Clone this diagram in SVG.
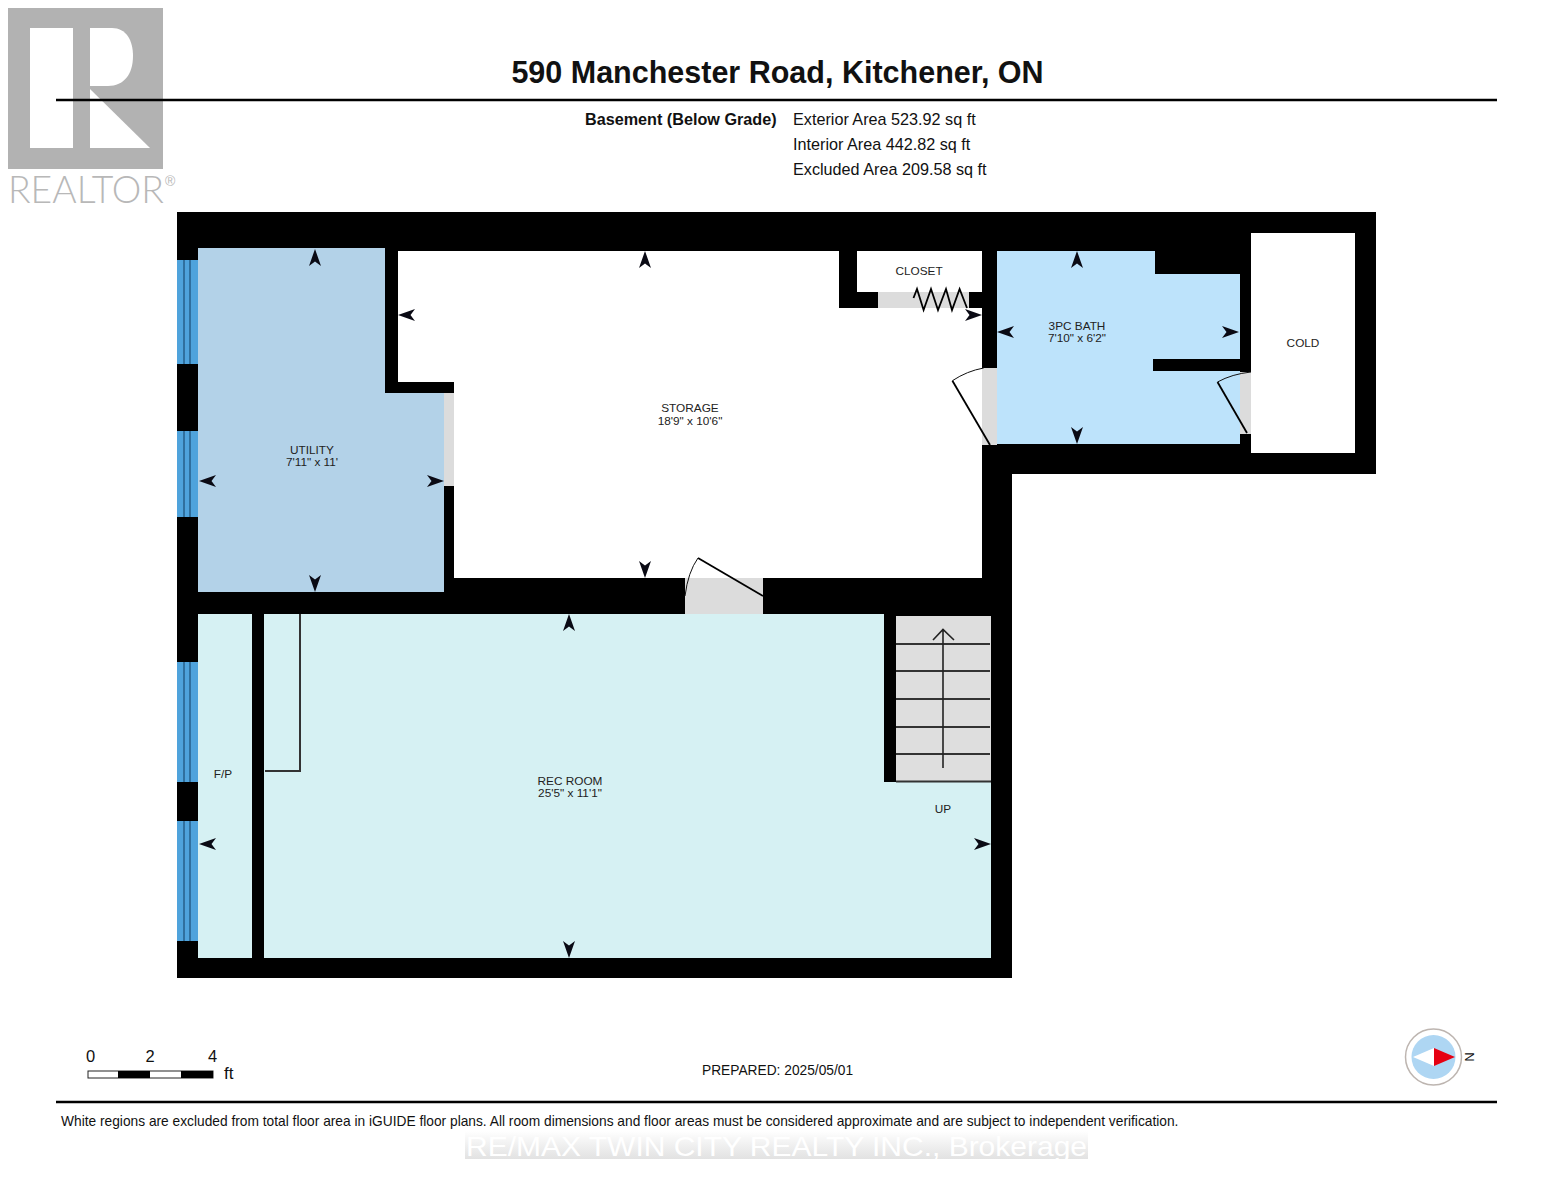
<svg xmlns="http://www.w3.org/2000/svg" xmlns:xlink="http://www.w3.org/1999/xlink" width="1553" height="1200" viewBox="0 0 1553 1200">
<style>
text{font-family:"Liberation Sans",Arial,sans-serif;fill:#111}
.room{font-size:11.8px;text-anchor:middle;fill:#222}
.info{font-size:16.2px}
.door{fill:#dcdcdc}
.leaf{fill:none;stroke:#000;stroke-width:1.8}
.arc{fill:none;stroke:#111;stroke-width:1}
.win{fill:#4fa3dc}
.winl{stroke:#123c60;stroke-width:1}
.step{stroke:#333;stroke-width:2}
</style>
<defs>
<path id="a" d="M0 0L6 17L0 12.5L-6 17Z" fill="#0a0a14"/>
<linearGradient id="band" x1="0" y1="0" x2="0" y2="1"><stop offset="0" stop-color="#fff"/><stop offset="0.5" stop-color="#f0f0f0"/><stop offset="1" stop-color="#e2e2e2"/></linearGradient>
</defs>
<rect width="1553" height="1200" fill="#fff"/>
<g id="logo">
<rect x="8" y="8" width="155" height="161" fill="#b2b2b2"/>
<rect x="30" y="28" width="43" height="120" fill="#fff"/>
<path d="M90 28H112C126 28 133 40 133 56C133 74 124 86 108 86H90Z" fill="#fff"/>
<path d="M90 89L150 148H90Z" fill="#fff"/>
<text x="8" y="203" font-size="37" textLength="156" lengthAdjust="spacingAndGlyphs" style="font-family:Lato,'Liberation Sans',sans-serif;font-weight:300;fill:#b8b8b8">REALTOR</text>
<text x="165" y="186" font-size="14" style="fill:#b8b8b8">®</text>
</g>
<g id="header">
<line x1="56" y1="100" x2="1497" y2="100" stroke="#000" stroke-width="2.5"/>
<text x="777.5" y="83" font-size="30.500" font-weight="700" text-anchor="middle">590 Manchester Road, Kitchener, ON</text>
<text x="585" y="125" class="info" style="font-weight:700">Basement (Below Grade)</text>
<text x="793" y="125" class="info">Exterior Area 523.92 sq ft</text>
<text x="793" y="150" class="info">Interior Area 442.82 sq ft</text>
<text x="793" y="175" class="info">Excluded Area 209.58 sq ft</text>
</g>
<g id="walls"><path d="M177 212H1376V474H1012V978H177Z" fill="#000"/></g>
<g id="windows">
<rect class="win" x="177" y="260" width="21" height="104"/><rect class="win" x="177" y="431" width="21" height="86"/><rect class="win" x="177" y="662" width="21" height="120"/><rect class="win" x="177" y="821" width="21" height="120"/>
<path class="winl" d="M184 260V364M190 260V364M184 431V517M190 431V517M184 662V782M190 662V782M184 821V941M190 821V941"/>
</g>
<g id="utility">
<path d="M198 248H385V393H444V592H198Z" fill="#b3d2e8"/>
<rect class="door" x="444" y="393" width="10" height="93"/>
<text class="room" x="312" y="454">UTILITY</text><text class="room" x="312" y="466">7'11" x 11'</text>
</g>
<g id="storage">
<path d="M398 251H839V308H982V578H454V382H398Z" fill="#fff"/>
<text class="room" x="690" y="412">STORAGE</text><text class="room" x="690" y="425">18'9" x 10'6"</text>
</g>
<g id="closet">
<rect x="857" y="251" width="125" height="41" fill="#fff"/>
<rect class="door" x="878" y="292" width="91" height="16"/>
<path class="leaf" d="M913.5 298L917 289L923.6 310L931 289L938 310L946 289L952 310L959.6 289L967 308"/>
<text class="room" x="919" y="275">CLOSET</text>
</g>
<g id="bath">
<path d="M997 251H1155V274H1240V359H1153V371H1240V444H997Z" fill="#bde3fb"/>
<rect class="door" x="982" y="368" width="15" height="77"/>
<path class="leaf" d="M990 445L952.4 380.7"/><path class="arc" d="M952.4 380.7Q967 371 983.7 368"/>
<rect class="door" x="1240" y="372" width="11" height="62"/>
<path class="leaf" d="M1247 433L1217.5 382"/><path class="arc" d="M1217.5 382Q1232 374 1251 372"/>
<text class="room" x="1077" y="330">3PC BATH</text><text class="room" x="1077" y="342">7'10" x 6'2"</text>
</g>
<g id="cold">
<rect x="1251" y="233" width="104" height="220" fill="#fff"/>
<text class="room" x="1303" y="347">COLD</text>
</g>
<g id="fp">
<rect x="198" y="614" width="54" height="344" fill="#d6f1f3"/>
<text class="room" x="223" y="778">F/P</text>
</g>
<g id="rec">
<path d="M264 614H884V782H991V958H264Z" fill="#d6f1f3"/>
<path d="M265 771H300V614" fill="none" stroke="#333" stroke-width="2"/>
<rect class="door" x="685" y="578" width="78" height="36"/>
<path class="leaf" d="M763 596L698 558"/><path class="arc" d="M698 558Q688 572 685 596"/>
<text class="room" x="570" y="785">REC ROOM</text><text class="room" x="570" y="797">25'5" x 11'1"</text>
<text class="room" x="943" y="813">UP</text>
</g>
<g id="stairs">
<rect x="896" y="616" width="95" height="166" fill="#dedede"/>
<path class="step" d="M896 644H990M896 671H990M896 699H990M896 727H990M896 754H990M896 781.500H991"/>
<path d="M943 768V630M933 640L943 629.500L954 640" fill="none" stroke="#222" stroke-width="1.600"/>
</g>
<g id="connectors">
<use xlink:href="#a" href="#a" transform="translate(315 249)"/>
<use xlink:href="#a" href="#a" transform="translate(315 592) rotate(180)"/>
<use xlink:href="#a" href="#a" transform="translate(199 481) rotate(-90)"/>
<use xlink:href="#a" href="#a" transform="translate(444 481) rotate(90)"/>
<use xlink:href="#a" href="#a" transform="translate(645 251)"/>
<use xlink:href="#a" href="#a" transform="translate(645 578) rotate(180)"/>
<use xlink:href="#a" href="#a" transform="translate(398 315) rotate(-90)"/>
<use xlink:href="#a" href="#a" transform="translate(982 315) rotate(90)"/>
<use xlink:href="#a" href="#a" transform="translate(1077 251)"/>
<use xlink:href="#a" href="#a" transform="translate(1077 444) rotate(180)"/>
<use xlink:href="#a" href="#a" transform="translate(997 332) rotate(-90)"/>
<use xlink:href="#a" href="#a" transform="translate(1239 332) rotate(90)"/>
<use xlink:href="#a" href="#a" transform="translate(569 614)"/>
<use xlink:href="#a" href="#a" transform="translate(569 958) rotate(180)"/>
<use xlink:href="#a" href="#a" transform="translate(199 844) rotate(-90)"/>
<use xlink:href="#a" href="#a" transform="translate(991 844) rotate(90)"/>
</g>
<g id="scale">
<rect x="88" y="1071" width="125" height="7" fill="#fff" stroke="#222" stroke-width="1"/>
<rect x="118" y="1071" width="32" height="7" fill="#000"/><rect x="181" y="1071" width="32" height="7" fill="#000"/>
<text x="90.500" y="1062" font-size="16.500" text-anchor="middle">0</text>
<text x="150" y="1062" font-size="16.500" text-anchor="middle">2</text>
<text x="212.500" y="1062" font-size="16.500" text-anchor="middle">4</text>
<text x="224" y="1079" font-size="17">ft</text>
</g>
<text x="702" y="1075" font-size="13.750">PREPARED: 2025/05/01</text>
<g id="compass">
<circle cx="1433.500" cy="1057" r="28" fill="#fff" stroke="#bdb5b0" stroke-width="1.500"/>
<circle cx="1433.500" cy="1057" r="22" fill="#aed6f3"/>
<path d="M1413 1057L1434 1048V1066Z" fill="#fff"/>
<path d="M1434 1048L1455 1057L1434 1066Z" fill="#e60012"/>
<text x="0" y="0" font-size="13" text-anchor="middle" transform="translate(1465 1057) rotate(90)">N</text>
</g>
<g id="footer">
<line x1="56" y1="1102" x2="1497" y2="1102" stroke="#000" stroke-width="2.500"/>
<text x="61" y="1126" font-size="13.750">White regions are excluded from total floor area in iGUIDE floor plans. All room dimensions and floor areas must be considered approximate and are subject to independent verification.</text>
<rect x="465" y="1131" width="623" height="28" fill="url(#band)"/>
<text x="466" y="1156" font-size="28.500" textLength="621" lengthAdjust="spacingAndGlyphs" style="fill:#fff">RE/MAX TWIN CITY REALTY INC., Brokerage</text>
</g>
</svg>
